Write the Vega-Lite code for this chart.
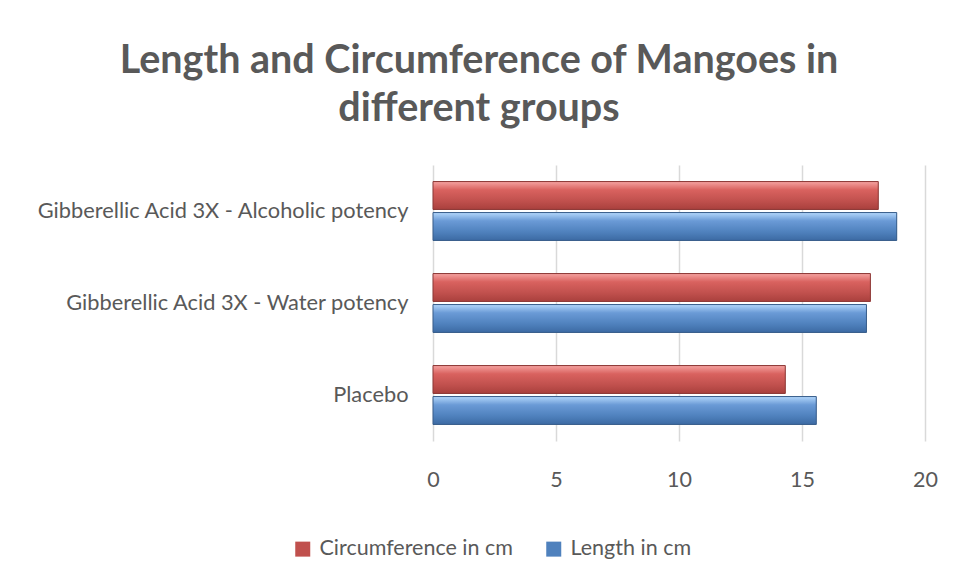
{
  "$schema": "https://vega.github.io/schema/vega-lite/v6.json",
  "autosize": {"type": "none"},
  "width": 492,
  "height": 276,
  "padding": {"left": 433, "top": 165, "right": 28, "bottom": 136},
  "background": "white",
  "title": {
    "text": ["Length and Circumference of Mangoes in", "different groups"],
    "font": "Lato",
    "fontSize": 39.5,
    "fontWeight": "bold",
    "color": "#595959",
    "anchor": "middle",
    "dx": -200,
    "lineHeight": 48,
    "offset": 36
  },
  "data": {
    "values": [
      {"group": "Gibberellic Acid 3X - Alcoholic potency", "measure": "Circumference in cm", "value": 18.1},
      {"group": "Gibberellic Acid 3X - Alcoholic potency", "measure": "Length in cm", "value": 18.85},
      {"group": "Gibberellic Acid 3X - Water potency", "measure": "Circumference in cm", "value": 17.78},
      {"group": "Gibberellic Acid 3X - Water potency", "measure": "Length in cm", "value": 17.62},
      {"group": "Placebo", "measure": "Circumference in cm", "value": 14.32},
      {"group": "Placebo", "measure": "Length in cm", "value": 15.58}
    ]
  },
  "encoding": {
    "y": {
      "field": "group",
      "type": "nominal",
      "sort": ["Gibberellic Acid 3X - Alcoholic potency", "Gibberellic Acid 3X - Water potency", "Placebo"],
      "scale": {"paddingInner": 0.36, "paddingOuter": 0.18},
      "axis": {
        "title": null,
        "domain": false,
        "ticks": false,
        "grid": false,
        "labelFont": "Lato",
        "labelFontSize": 21.8,
        "labelColor": "#595959",
        "labelPadding": 25,
        "labelLimit": 420
      }
    },
    "yOffset": {
      "field": "measure",
      "type": "nominal",
      "sort": ["Circumference in cm", "Length in cm"],
      "scale": {"paddingInner": 0.1}
    },
    "x": {
      "field": "value",
      "type": "quantitative",
      "scale": {"domain": [0, 20], "nice": false},
      "axis": {
        "title": null,
        "values": [0, 5, 10, 15, 20],
        "domain": false,
        "ticks": false,
        "grid": true,
        "gridColor": "#d9d9d9",
        "gridWidth": 1.5,
        "labelFont": "Lato",
        "labelFontSize": 21.5,
        "labelColor": "#595959",
        "labelPadding": 28,
        "labelFlush": false
      }
    }
  },
  "layer": [
    {
      "mark": {"type": "bar"},
      "encoding": {
        "color": {
          "field": "measure",
          "type": "nominal",
          "sort": ["Circumference in cm", "Length in cm"],
          "scale": {"domain": ["Circumference in cm", "Length in cm"], "range": ["#c0504d", "#4f81bd"]},
          "legend": {
            "title": null,
            "orient": "none",
            "direction": "horizontal",
            "legendX": -141,
            "legendY": 373,
            "symbolType": "square",
            "symbolSize": 225,
            "symbolStrokeWidth": 0,
            "labelFont": "Lato",
            "labelFontSize": 21.5,
            "labelColor": "#595959",
            "labelLimit": 400,
            "columnPadding": 30,
            "labelOffset": 6
          }
        }
      }
    },
    {
      "transform": [{"filter": "datum.measure === 'Circumference in cm'"}],
      "mark": {
        "type": "bar",
        "stroke": "#8c3836",
        "strokeWidth": 1,
        "fill": {"gradient": "linear", "x1": 0, "y1": 0, "x2": 0, "y2": 1, "stops": [
          {"offset": 0, "color": "#f5a3a1"},
          {"offset": 0.3, "color": "#d9625f"},
          {"offset": 0.7, "color": "#c0504d"},
          {"offset": 1, "color": "#a9403d"}
        ]}
      }
    },
    {
      "transform": [{"filter": "datum.measure === 'Length in cm'"}],
      "mark": {
        "type": "bar",
        "stroke": "#385d8a",
        "strokeWidth": 1,
        "fill": {"gradient": "linear", "x1": 0, "y1": 0, "x2": 0, "y2": 1, "stops": [
          {"offset": 0, "color": "#b3d7fb"},
          {"offset": 0.3, "color": "#6a9ad6"},
          {"offset": 0.7, "color": "#4f81bd"},
          {"offset": 1, "color": "#3c6aa3"}
        ]}
      }
    }
  ],
  "config": {
    "view": {"stroke": null}
  }
}
